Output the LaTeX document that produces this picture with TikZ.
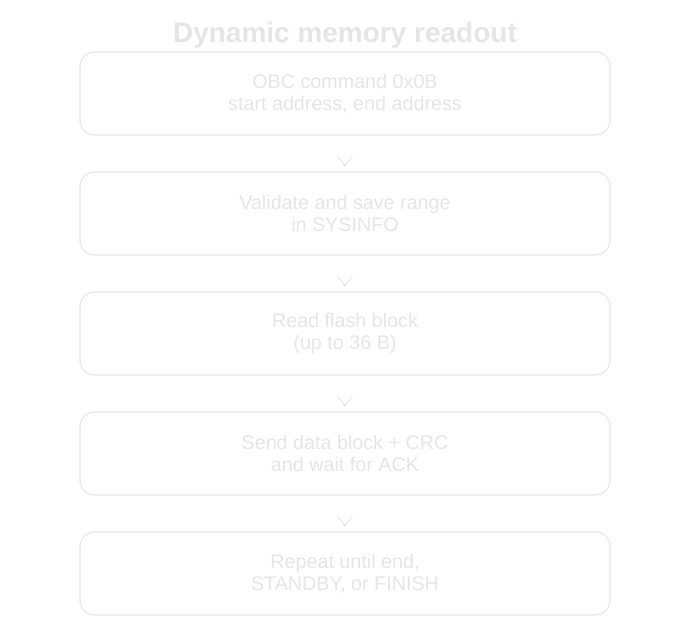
\documentclass[tikz,border=0pt]{standalone}
\usepackage{fontspec}
\setmainfont{Liberation Sans}
\usetikzlibrary{arrows.meta}
\definecolor{faint}{gray}{0.9}

\begin{document}
\begin{tikzpicture}[x=0.75pt, y=-0.75pt,
		stepbox/.style={draw=faint, thick, rounded corners=11pt, minimum width=530*0.75pt,
			minimum height=83*0.75pt, align=center, text=faint, font=\fontsize{14.8}{17}\selectfont},
		flow/.style={draw=faint, thick, -{Straight Barb[length=7pt, width=11pt]}, shorten <=28pt*0.75, shorten >=5*0.75pt}]
			\useasboundingbox (0,0) rectangle (690,624);
			% Title
			\node[text=faint, font=\fontsize{21}{24}\selectfont\bfseries] (title) at (345,35) {Dynamic memory readout};

			% Steps
			\node[stepbox] (cmd) at (345,93.5) {OBC command 0x0B\\start address, end address};
			\node[stepbox] (save) at (345,213.5) {Validate and save range\\in SYSINFO};
			\node[stepbox] (read) at (345,333.5) {Read flash block\\(up to 36 B)};
			\node[stepbox] (send) at (345,453.5) {Send data block + CRC\\and wait for ACK};
			\node[stepbox] (rep) at (345,573.5) {Repeat until end,\\STANDBY, or FINISH};

			% Connectors
			\draw[flow] (cmd) -- (save);
			\draw[flow] (save) -- (read);
			\draw[flow] (read) -- (send);
			\draw[flow] (send) -- (rep);
		\end{tikzpicture}
\end{document}
